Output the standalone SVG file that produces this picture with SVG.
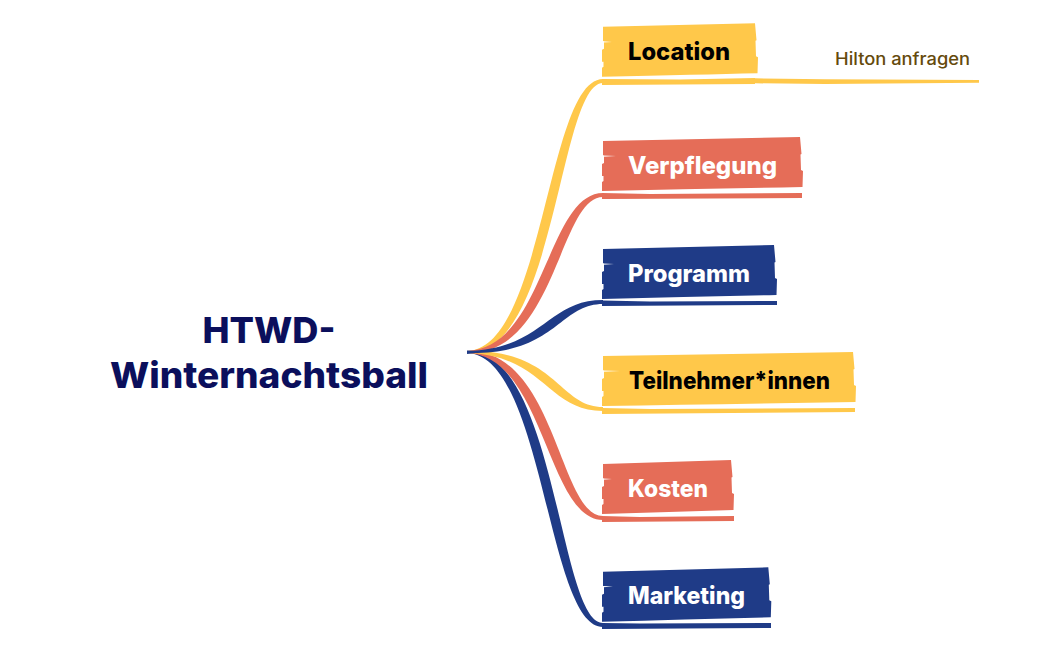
<svg xmlns="http://www.w3.org/2000/svg" width="1048" height="650" viewBox="0 0 1048 650">
<style>
.y{fill:#ffc84a}.r{fill:#e56d58}.b{fill:#1f3b87}
text{font-family:"Inter","Open Sans","Liberation Sans",sans-serif;font-weight:800}
.l{font-size:24px}
.w{fill:#fff}.k{fill:#000}
.slit{fill:#fff}
.t{font-size:36px;fill:#0b0f5c}
</style>
<rect width="1048" height="650" fill="#fff"/>
<g id="connectors">
<path class="b" d="M467 351C556 349 559 623 603 623L603 627C547 627 544 355 467 353Z"/>
<path class="r" d="M467 351C556 349 559 516 603 516L603 520C547 520 544 355 467 353Z"/>
<path class="y" d="M467 351C556 349 559 407 603 407L603 411C547 411 544 355 467 353Z"/>
<path class="y" d="M467 351C544 349 547 79 603 79L603 83C559 83 556 355 467 353Z"/>
<path class="r" d="M467 351C544 349 547 193 603 193L603 197C559 197 556 355 467 353Z"/>
<path class="b" d="M467 351C544 349 547 300 603 300L603 304C559 304 556 355 467 353Z"/>
<path class="b" d="M467 350.5L475 351L475 353L467 354Z"/>
</g>
<g id="node-root"><text class="t" x="269" y="343" text-anchor="middle" textLength="133" lengthAdjust="spacingAndGlyphs">HTWD-</text><text class="t" x="269" y="388" text-anchor="middle" textLength="318" lengthAdjust="spacingAndGlyphs">Winternachtsball</text></g>
<g id="node-location">
<path class="y" d="M603 26.7L755 23.3l1.5 17l-1 .5l.5 15.5l2 1l-.5 16Q700 74.7 602 76.7v-9l1.5-1v-5h-1.5v-12l2-1v-7l-1-1v-14Z"/>
<path class="y" d="M602 79L680 79.5L755 78L755 84L602 85Z"/>
<path class="slit" d="M603 41.3L612 42L603 42.6Z"/>
<text class="l k" x="628" y="60" textLength="102" lengthAdjust="spacingAndGlyphs">Location</text>
</g>
<g id="node-hilton">
<path class="y" d="M755 78.3L825 79.3L979 80L979 82.7L825 84L755 83.3Z"/>
<text x="835" y="65" font-size="17" fill="#654a0c" style="font-weight:500" textLength="135" lengthAdjust="spacingAndGlyphs">Hilton anfragen</text>
</g>
<g id="node-verpflegung">
<path class="r" d="M603 141L800 137l1.5 17l-1 .5l.5 15.5l2 1l-.5 16Q700 189 602 191v-9l1.5-1v-5h-1.5v-12l2-1v-7l-1-1v-14Z"/>
<path class="r" d="M602 193L650 194L802 193L802 198L602 199Z"/>
<path class="slit" d="M603 155.5L616 156L603 156.7Z"/>
<text class="l w" x="628" y="173.5" textLength="149" lengthAdjust="spacingAndGlyphs">Verpflegung</text>
</g>
<g id="node-programm">
<path class="b" d="M603 249L774 245l1.5 17l-1 .5l.5 15.5l2 1l-.5 16Q690 297 602 299v-9l1.5-1v-5h-1.5v-12l2-1v-7l-1-1v-14Z"/>
<path class="b" d="M602 300.5L650 301.5L777 301L777 305L602 306Z"/>
<path class="slit" d="M603 263.5L614 264L603 264.7Z"/>
<text class="l w" x="628" y="281.5" textLength="122" lengthAdjust="spacingAndGlyphs">Programm</text>
</g>
<g id="node-teilnehmer">
<path class="y" d="M603 356L853 352l1.5 17l-1 .5l.5 15.5l2 1l-.5 16Q720 404 602 406v-9l1.5-1v-5h-1.5v-12l2-1v-7l-1-1v-14Z"/>
<path class="y" d="M602 408L650 409L855 408L855 412L602 414Z"/>
<path class="slit" d="M603 370.5L620 371L603 371.7Z"/>
<text class="l k" x="629" y="389" textLength="201" lengthAdjust="spacingAndGlyphs">Teilnehmer*innen</text>
</g>
<g id="node-kosten">
<path class="r" d="M603 464L731 460l1.5 17l-1 .5l.5 15.5l2 1l-.5 16Q670 512 602 514v-9l1.5-1v-5h-1.5v-12l2-1v-7l-1-1v-14Z"/>
<path class="r" d="M602 516L640 517L734 516L734 521L602 522Z"/>
<path class="slit" d="M603 478.5L612 479L603 479.7Z"/>
<text class="l w" x="628" y="497" textLength="80" lengthAdjust="spacingAndGlyphs">Kosten</text>
</g>
<g id="node-marketing">
<path class="b" d="M603 571.7L768.3 567.3l1.5 17l-1 .5l.5 15.5l2 1l-.5 16Q690 619.5 602 621.7v-9l1.5-1v-5h-1.5v-12l2-1v-7l-1-1v-14Z"/>
<path class="b" d="M602 623L640 623.5L771 623L771 628L602 629Z"/>
<path class="slit" d="M603 586L613 586.6L603 587.3Z"/>
<text class="l w" x="628" y="604" textLength="117" lengthAdjust="spacingAndGlyphs">Marketing</text>
</g>
</svg>
